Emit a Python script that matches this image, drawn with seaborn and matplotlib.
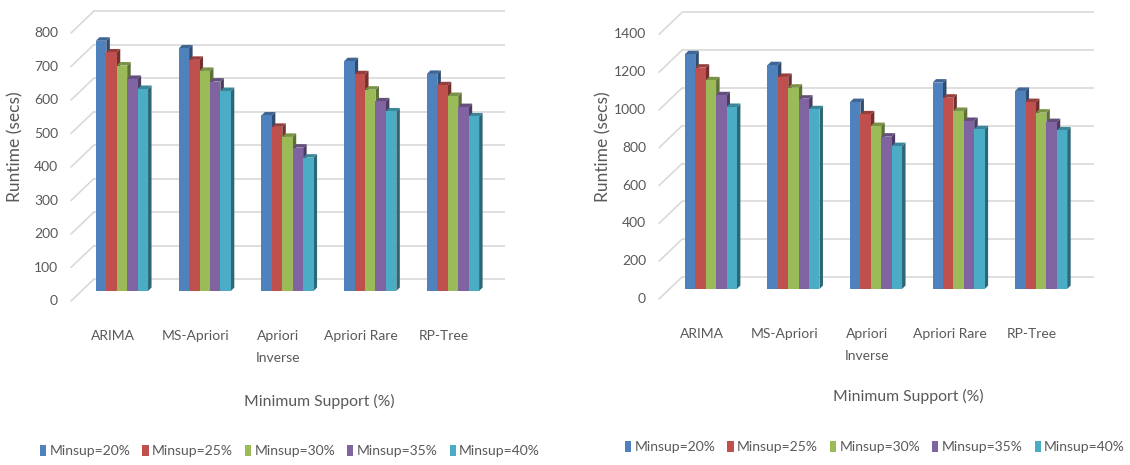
import numpy as np
import pandas as pd
import matplotlib
matplotlib.use("Agg")
import matplotlib.pyplot as plt
import seaborn as sns
from matplotlib.patches import Polygon, Patch
from matplotlib import font_manager

# ---- data -------------------------------------------------------------
algorithms = ["ARIMA", "MS-Apriori", "Apriori\nInverse", "Apriori Rare", "RP-Tree"]
minsup_labels = ["Minsup=20%", "Minsup=25%", "Minsup=30%", "Minsup=35%", "Minsup=40%"]
colors = ["#4F81BD", "#C0504D", "#9BBB59", "#8064A2", "#4BACC6"]

# runtime in seconds, first dataset (one list per minimum support level)
left_minsup20 = [747, 724, 524, 686, 648]
left_minsup25 = [712, 690, 490, 647, 614]
left_minsup30 = [673, 657, 460, 601, 582]
left_minsup35 = [633, 625, 428, 566, 549]
left_minsup40 = [603, 597, 398, 536, 521]
left_ticks = [0, 100, 200, 300, 400, 500, 600, 700, 800]

# runtime in seconds, second dataset
right_minsup20 = [1242, 1184, 989, 1092, 1048]
right_minsup25 = [1171, 1122, 924, 1012, 989]
right_minsup30 = [1104, 1065, 862, 942, 933]
right_minsup35 = [1025, 1007, 806, 889, 883]
right_minsup40 = [963, 951, 756, 845, 839]
right_ticks = [0, 200, 400, 600, 800, 1000, 1200, 1400]

x_title = "Minimum Support (%)"
y_title = "Runtime (secs)"

# ---- style ------------------------------------------------------------
sns.set_style("white")
installed = {f.name for f in font_manager.fontManager.ttflist}
main_font = "Liberation Sans Narrow" if "Liberation Sans Narrow" in installed else "Lato"
plt.rcParams["font.family"] = [main_font, "DejaVu Sans"]
TEXT = "#595959"
GRID = "#d9d9d9"

W, H = 1130, 465
fig = plt.figure(figsize=(W / 100, H / 100), dpi=100)


def add_axes_px(left, top, right, bottom):
    return fig.add_axes([left / W, 1 - bottom / H, (right - left) / W, (bottom - top) / H])


def draw_panel(ax, series, ticks, xlim, box_px):
    left, top, right, bottom = box_px
    df = pd.DataFrame({
        "Algorithm": np.tile(algorithms, len(series)),
        "Minsup": np.repeat(minsup_labels, len(algorithms)),
        "Runtime": np.concatenate(series),
    })
    sns.barplot(data=df, x="Algorithm", y="Runtime", hue="Minsup",
                order=algorithms, hue_order=minsup_labels, palette=colors,
                width=0.63, saturation=1, linewidth=0, errorbar=None,
                legend=False, ax=ax)
    ylim = (0, ticks[-1])
    ax.set_xlim(*xlim)
    ax.set_ylim(*ylim)

    px_x = (right - left) / (xlim[1] - xlim[0])
    px_y = (bottom - top) / (ylim[1] - ylim[0])
    dxp = lambda p: p / px_x
    dyp = lambda p: p / px_y

    # pseudo-3D: darker side face and top cap behind each front face
    depth_x, depth_y = dxp(3.5), dyp(3.5)
    bars = sorted(ax.patches, key=lambda p: p.get_x())
    for rank, bar in enumerate(bars):
        x0, w, h = bar.get_x(), bar.get_width(), bar.get_height()
        base = np.array(bar.get_facecolor()[:3])
        z = 3 + rank * 0.01
        side = Polygon([(x0 + w, 0), (x0 + w + depth_x, depth_y),
                        (x0 + w + depth_x, h + depth_y), (x0 + w, h)],
                       closed=True, fc=base * 0.6, ec="none", zorder=z, clip_on=False)
        cap = Polygon([(x0, h), (x0 + depth_x, h + depth_y),
                       (x0 + w + depth_x, h + depth_y), (x0 + w, h)],
                      closed=True, fc=base * 0.78, ec="none", zorder=z, clip_on=False)
        bar.set_zorder(z + 0.005)
        bar.set_clip_on(False)
        ax.add_patch(side)
        ax.add_patch(cap)

    # back-wall gridlines, diagonal side-wall stubs and value labels
    back, front = dyp(12), dyp(10)
    for t in ticks:
        ax.plot([xlim[0], xlim[1]], [t + back, t + back], color=GRID, lw=1.2,
                zorder=1, clip_on=False, solid_capstyle="butt")
        ax.plot([xlim[0] - dxp(23), xlim[0]], [t - front, t + back], color=GRID,
                lw=1.2, zorder=1, clip_on=False)
        ax.text(xlim[0] - dxp(36), t - front, f"{t}", ha="right", va="center",
                color=TEXT, fontsize=10)

    ax.set_yticks([])
    ax.set_xticks(np.arange(len(algorithms)) - dxp(9))
    ax.set_xticklabels(algorithms, color=TEXT, fontsize=10, linespacing=2.0)
    ax.tick_params(axis="x", length=0, pad=28)
    ax.set_xlabel("")
    ax.set_ylabel("")
    for s in ax.spines.values():
        s.set_visible(False)
    ax.patch.set_alpha(0)


# ---- left panel -------------------------------------------------------
box_l = (94, 291 - 800 * 0.335, 505, 291)
ax_l = add_axes_px(*box_l)
draw_panel(ax_l, [left_minsup20, left_minsup25, left_minsup30, left_minsup35, left_minsup40],
           left_ticks, (-0.338, 4.628), box_l)

# ---- right panel ------------------------------------------------------
box_r = (682, 289 - 1400 * 0.189, 1094, 289)
ax_r = add_axes_px(*box_r)
draw_panel(ax_r, [right_minsup20, right_minsup25, right_minsup30, right_minsup35, right_minsup40],
           right_ticks, (-0.35, 4.64), box_r)

# ---- titles and legends ----------------------------------------------
fig.text(319 / W, 1 - 401 / H, x_title, ha="center", va="center", color=TEXT, fontsize=11.3)
fig.text(908 / W, 1 - 396 / H, x_title, ha="center", va="center", color=TEXT, fontsize=11.3)
fig.text(15 / W, 1 - 147 / H, y_title, ha="center", va="center", rotation=90,
         color=TEXT, fontsize=12.5)
fig.text(603 / W, 1 - 147 / H, y_title, ha="center", va="center", rotation=90,
         color=TEXT, fontsize=12.5)

handles = [Patch(facecolor=c, edgecolor="none") for c in colors]
for cx, cy in [(290, 451), (875, 447)]:
    leg = fig.legend(handles, minsup_labels, loc="center", bbox_to_anchor=(cx / W, 1 - cy / H),
                     ncol=5, frameon=False, fontsize=10, handlelength=0.45,
                     handleheight=0.8, handletextpad=0.25, columnspacing=0.85,
                     borderaxespad=0, borderpad=0)
    for txt in leg.get_texts():
        txt.set_color(TEXT)

fig.savefig("out.png", dpi=100, facecolor="white")
